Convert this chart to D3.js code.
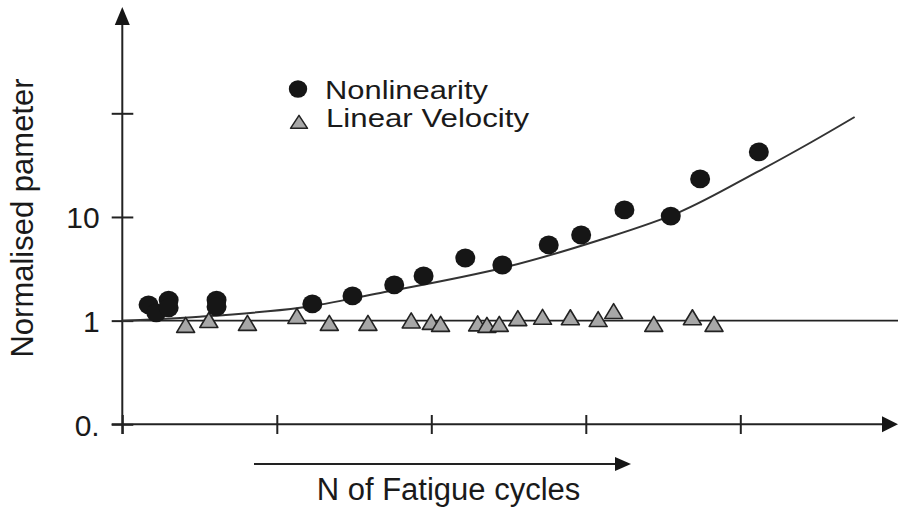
<!DOCTYPE html>
<html>
<head>
<meta charset="utf-8">
<script src="https://cdn.jsdelivr.net/npm/d3@7"></script>
<style>
  html, body { margin: 0; padding: 0; background: #fff; }
  svg { display: block; }
  text { font-family: "Liberation Sans", Arial, Helvetica, sans-serif; fill: #1a1a1a; }
</style>
</head>
<body>
<svg id="chart" width="898" height="510"></svg>
<script>
// ---- data (x in arbitrary fatigue-cycle units, tick spacing = 1) ----
const nonlinX = [0.17, 0.22, 0.30, 0.30, 0.61, 0.61, 1.23, 1.49, 1.76, 1.95, 2.22, 2.46, 2.76, 2.97, 3.25, 3.55, 3.74, 4.12];
const nonlinY = [1.42, 1.19, 1.58, 1.33, 1.58, 1.36, 1.45, 1.73, 2.21, 2.70, 4.02, 3.44, 5.37, 6.70, 11.7, 10.2, 23.3, 42.4];

const velX = [0.41, 0.56, 0.81, 1.13, 1.34, 1.59, 1.87, 2.00, 2.06, 2.30, 2.36, 2.44, 2.56, 2.72, 2.90, 3.08, 3.18, 3.44, 3.69, 3.83];
const velY = [0.86, 0.96, 0.90, 1.05, 0.90, 0.90, 0.95, 0.92, 0.88, 0.89, 0.86, 0.88, 1.00, 1.03, 1.02, 0.98, 1.17, 0.88, 1.02, 0.88];

const fitX = [0, 0.50, 1.15, 1.67, 2.46, 3.09, 3.61, 4.11, 4.45, 4.74];
const fitY = [1.0, 1.09, 1.33, 1.85, 3.22, 6.0, 11.2, 27.2, 51.7, 92.1];

const xTicks = [0, 1, 2, 3, 4];
const yTicks = [0.1, 1, 10, 100];
const yTickLabels = ["0.", "1", "10", ""];

const legendLabels = ["Nonlinearity", "Linear Velocity"];
const yTitle = "Normalised pameter";
const xTitle = "N of Fatigue cycles";

// ---- drawing ----
const svg = d3.select("#chart");
const dark = "#161616";

const x = d3.scaleLinear().domain([0, 5]).range([122.3, 894.8]);
const y = d3.scaleLog().domain([0.1, 100]).range([424.3, 113.3]);

// reference line at 1
svg.append("line")
  .attr("x1", x(0)).attr("x2", 898)
  .attr("y1", y(1)).attr("y2", y(1))
  .attr("stroke", "#222").attr("stroke-width", 1.8);

// x axis line + arrow
svg.append("line")
  .attr("x1", 111.7).attr("x2", 884)
  .attr("y1", y(0.1)).attr("y2", y(0.1))
  .attr("stroke", "#222").attr("stroke-width", 2);
svg.append("path")
  .attr("d", `M882,${y(0.1) - 8}L898,${y(0.1)}L882,${y(0.1) + 8}Z`)
  .attr("fill", dark);

// y axis line + arrow
svg.append("line")
  .attr("x1", x(0)).attr("x2", x(0))
  .attr("y1", 434).attr("y2", 22)
  .attr("stroke", "#222").attr("stroke-width", 2);
svg.append("path")
  .attr("d", `M${x(0) - 7.5},25L${x(0)},7L${x(0) + 7.5},25Z`)
  .attr("fill", dark);

// x ticks (crossing the axis)
const xAxis = d3.axisBottom(x).tickValues(xTicks).tickSize(19).tickFormat("");
const gx = svg.append("g").attr("transform", "translate(0,415)").call(xAxis);
gx.select(".domain").remove();
gx.selectAll(".tick line").attr("stroke", "#222").attr("stroke-width", 2);

// y ticks (crossing the axis)
const yAxis = d3.axisLeft(y).tickValues(yTicks).tickSize(21.6).tickPadding(12)
  .tickFormat((d, i) => yTickLabels[i]);
const gy = svg.append("g").attr("transform", "translate(133.3,0)").call(yAxis);
gy.select(".domain").remove();
gy.selectAll(".tick line").attr("stroke", "#222").attr("stroke-width", 2);
gy.selectAll(".tick text")
  .attr("font-size", 30)
  .attr("font-family", "Liberation Sans, Arial, sans-serif")
  .attr("fill", "#1a1a1a")
  .attr("dy", "0.36em");

// fitted curve
const fitData = fitX.map((d, i) => [d, fitY[i]]);
svg.append("path")
  .datum(fitData)
  .attr("d", d3.line().x(d => x(d[0])).y(d => y(d[1])).curve(d3.curveCatmullRom.alpha(0.5)))
  .attr("fill", "none").attr("stroke", "#333").attr("stroke-width", 2);

// triangles
function tri(w, h) {
  return `M0,${-2 * h / 3}L${w / 2},${h / 3}L${-w / 2},${h / 3}Z`;
}
const velData = velX.map((d, i) => [d, velY[i]]);
svg.append("g").selectAll("path")
  .data(velData).join("path")
  .attr("transform", d => `translate(${x(d[0])},${y(d[1])})`)
  .attr("d", tri(18, 15))
  .attr("fill", "#a7a7a7").attr("stroke", "#222").attr("stroke-width", 1.6)
  .attr("stroke-linejoin", "round");

// dots
const nlData = nonlinX.map((d, i) => [d, nonlinY[i]]);
svg.append("g").selectAll("ellipse")
  .data(nlData).join("ellipse")
  .attr("cx", d => x(d[0])).attr("cy", d => y(d[1]))
  .attr("rx", 10).attr("ry", 9.4)
  .attr("fill", dark);

// legend
const lg = svg.append("g");
lg.append("ellipse").attr("cx", 298).attr("cy", 89).attr("rx", 9.2).attr("ry", 8.8).attr("fill", dark);
lg.append("text").attr("x", 325).attr("y", 99).attr("font-size", 26)
  .attr("textLength", 163).attr("lengthAdjust", "spacingAndGlyphs")
  .text(legendLabels[0]);
lg.append("path").attr("transform", "translate(299,124)").attr("d", tri(17, 13))
  .attr("fill", "#a7a7a7").attr("stroke", "#222").attr("stroke-width", 1.5).attr("stroke-linejoin", "round");
lg.append("text").attr("x", 326).attr("y", 127).attr("font-size", 26)
  .attr("textLength", 203).attr("lengthAdjust", "spacingAndGlyphs")
  .text(legendLabels[1]);

// y title
svg.append("text")
  .attr("transform", "translate(33,218) rotate(-90)")
  .attr("text-anchor", "middle")
  .attr("font-size", 31)
  .text(yTitle);

// x direction arrow and title
svg.append("line")
  .attr("x1", 254).attr("x2", 617)
  .attr("y1", 464).attr("y2", 464)
  .attr("stroke", "#222").attr("stroke-width", 2);
svg.append("path")
  .attr("d", "M615,457L631,464L615,471Z")
  .attr("fill", dark);
svg.append("text")
  .attr("x", 448.5).attr("y", 500)
  .attr("text-anchor", "middle")
  .attr("font-size", 31)
  .text(xTitle);
</script>
</body>
</html>
